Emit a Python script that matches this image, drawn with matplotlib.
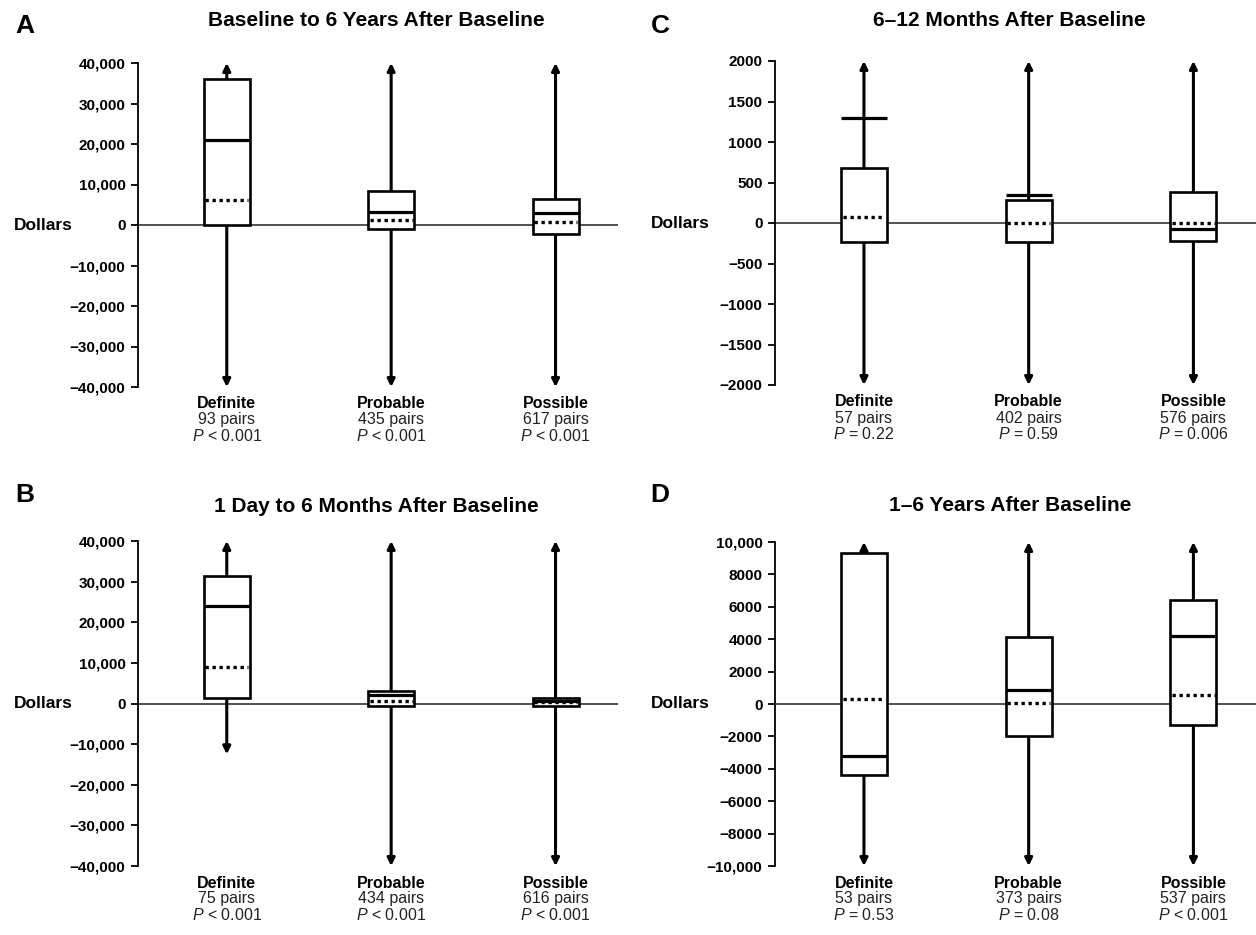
import matplotlib
matplotlib.use('Agg')
import matplotlib.pyplot as plt
from matplotlib.patches import Rectangle

plt.rcParams['font.family'] = ['Liberation Sans', 'DejaVu Sans']
plt.rcParams['mathtext.fontset'] = 'custom'
plt.rcParams['mathtext.it'] = 'Liberation Sans:italic'
plt.rcParams['mathtext.rm'] = 'Liberation Sans'

groups = ['Definite', 'Probable', 'Possible']

# A: baseline to 6 years after baseline
a_q1 = [0, -1000, -2300]
a_q3 = [36000, 8300, 6300]
a_solid = [21000, 3200, 3000]
a_dotted = [6200, 1300, 800]
a_lo = [-40000, -40000, -40000]
a_hi = [40000, 40000, 40000]
a_pairs = [93, 435, 617]
a_p = ['< 0.001', '< 0.001', '< 0.001']

# B: 1 day to 6 months after baseline
b_q1 = [1400, -700, -600]
b_q3 = [31500, 3200, 1300]
b_solid = [24000, 2000, 600]
b_dotted = [9000, 700, 400]
b_lo = [-12500, -40000, -40000]
b_hi = [40000, 40000, 40000]
b_pairs = [75, 434, 616]
b_p = ['< 0.001', '< 0.001', '< 0.001']

# C: 6-12 months after baseline
c_q1 = [-230, -230, -220]
c_q3 = [680, 280, 385]
c_solid = [1300, 350, -70]
c_dotted = [70, 0, 0]
c_lo = [-2000, -2000, -2000]
c_hi = [2000, 2000, 2000]
c_pairs = [57, 402, 576]
c_p = ['= 0.22', '= 0.59', '= 0.006']

# D: 1-6 years after baseline
d_q1 = [-4400, -2000, -1300]
d_q3 = [9300, 4150, 6400]
d_solid = [-3200, 850, 4200]
d_dotted = [300, 50, 550]
d_lo = [-10000, -10000, -10000]
d_hi = [10000, 10000, 10000]
d_pairs = [53, 373, 537]
d_p = ['= 0.53', '= 0.08', '< 0.001']

big_ticks = [40000, 30000, 20000, 10000, 0, -10000, -20000, -30000, -40000]
big_labels = ['40,000', '30,000', '20,000', '10,000', '0',
              '\u221210,000', '\u221220,000', '\u221230,000', '\u221240,000']
c_ticks = [2000, 1500, 1000, 500, 0, -500, -1000, -1500, -2000]
c_labels = ['2000', '1500', '1000', '500', '0',
            '\u2212500', '\u22121000', '\u22121500', '\u22122000']
d_ticks = [10000, 8000, 6000, 4000, 2000, 0, -2000, -4000, -6000, -8000, -10000]
d_labels = ['10,000', '8000', '6000', '4000', '2000', '0',
            '\u22122000', '\u22124000', '\u22126000', '\u22128000', '\u221210,000']

W, H = 1256, 935
fig = plt.figure(figsize=(W / 100, H / 100), dpi=100)


def panel(box, letter, title, title_xy, letter_xy, q1, q3, solid, dotted, lo, hi,
          pairs, pvals, ticks, labels):
    l, t, r, b = box
    ax = fig.add_axes([l / W, 1 - b / H, (r - l) / W, (b - t) / H])
    ax.set_xlim(-0.54, 2.38)
    ax.set_ylim(ticks[-1], ticks[0])
    ax.axhline(0, color='#222222', lw=1.1, zorder=1)
    bw = 0.28
    for i in range(len(groups)):
        ax.annotate('', xy=(i, hi[i]), xytext=(i, lo[i]), annotation_clip=False,
                    arrowprops=dict(arrowstyle='<|-|>', color='black', lw=2.2,
                                    mutation_scale=11, shrinkA=0, shrinkB=0),
                    zorder=2)
        ax.add_patch(Rectangle((i - bw / 2, q1[i]), bw, q3[i] - q1[i],
                               facecolor='white', edgecolor='black', lw=1.9,
                               zorder=3))
        ax.plot([i - bw / 2, i + bw / 2], [solid[i], solid[i]], color='black',
                lw=2.3, solid_capstyle='butt', zorder=4)
        ax.plot([i - bw / 2 + 0.01, i + bw / 2 - 0.01], [dotted[i], dotted[i]],
                color='black', lw=2.4, linestyle=(0, (1, 1.1)),
                dash_capstyle='butt', zorder=4)
        ax.annotate(groups[i], xy=(i, 0), xycoords=('data', 'axes fraction'),
                    xytext=(0, -17), textcoords='offset pixels', ha='center',
                    va='center', fontsize=11.5, fontweight='bold')
        ax.annotate('%d pairs' % pairs[i], xy=(i, 0),
                    xycoords=('data', 'axes fraction'), xytext=(0, -33),
                    textcoords='offset pixels', ha='center', va='center',
                    fontsize=11.5, color='#222222')
        ax.annotate(r'$\mathit{P}$ ' + pvals[i], xy=(i, 0),
                    xycoords=('data', 'axes fraction'), xytext=(0, -49),
                    textcoords='offset pixels', ha='center', va='center',
                    fontsize=11.5, color='#222222')
    for s in ['top', 'right', 'bottom']:
        ax.spines[s].set_visible(False)
    ax.spines['left'].set_linewidth(1.3)
    ax.set_xticks([])
    ax.set_yticks(ticks)
    ax.set_yticklabels(labels, fontweight='bold', fontsize=11)
    ax.tick_params(axis='y', direction='out', length=5, width=1.3, pad=4)
    ax.annotate('Dollars', xy=(0, 0), xycoords=('axes fraction', 'data'),
                xytext=(-95, 0), textcoords='offset pixels', ha='center',
                va='center', fontsize=12.5, fontweight='bold')
    fig.text(title_xy[0] / W, 1 - title_xy[1] / H, title, ha='center',
             va='center', fontsize=15, fontweight='bold')
    fig.text(letter_xy[0] / W, 1 - letter_xy[1] / H, letter, ha='center',
             va='center', fontsize=19, fontweight='bold')
    return ax


panel((138, 63, 618, 387), 'A', 'Baseline to 6 Years After Baseline', (376, 21),
      (25, 26), a_q1, a_q3, a_solid, a_dotted, a_lo, a_hi, a_pairs, a_p,
      big_ticks, big_labels)
panel((138, 541, 618, 866), 'B', '1 Day to 6 Months After Baseline', (376, 506),
      (25, 495), b_q1, b_q3, b_solid, b_dotted, b_lo, b_hi, b_pairs, b_p,
      big_ticks, big_labels)
panel((775, 61, 1256, 385), 'C', '6\u201312 Months After Baseline', (1009, 21),
      (660, 26), c_q1, c_q3, c_solid, c_dotted, c_lo, c_hi, c_pairs, c_p,
      c_ticks, c_labels)
panel((775, 542, 1256, 866), 'D', '1\u20136 Years After Baseline', (1010, 506),
      (660, 495), d_q1, d_q3, d_solid, d_dotted, d_lo, d_hi, d_pairs, d_p,
      d_ticks, d_labels)

fig.savefig('out.png', dpi=100)
